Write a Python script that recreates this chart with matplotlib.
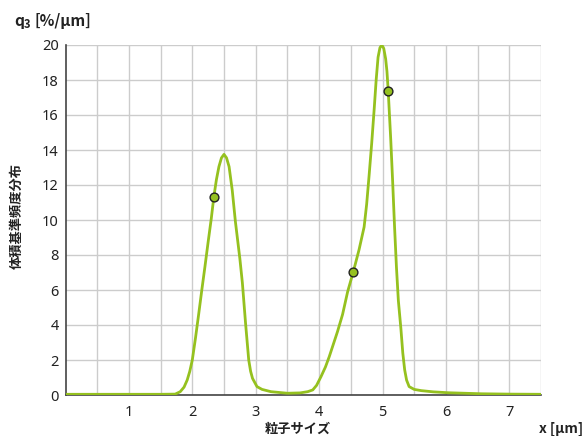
import matplotlib
matplotlib.use("Agg")
import matplotlib.pyplot as plt
import numpy as np

plt.rcParams['font.family'] = ['Noto Sans CJK JP', 'DejaVu Sans']

# Particle size (µm) and q3 (%/µm)
size_um = [0.0, 0.5, 1.0, 1.5, 1.73, 1.81, 1.87, 1.92, 1.96, 2.00, 2.05, 2.10, 2.15,
           2.20, 2.25, 2.30, 2.34, 2.38, 2.42, 2.46, 2.50, 2.54, 2.58, 2.63, 2.68,
           2.72, 2.75, 2.79, 2.84, 2.89, 2.92, 2.95, 3.02, 3.10, 3.24, 3.50, 3.70,
           3.82, 3.90, 3.96, 4.03, 4.10, 4.16, 4.22, 4.29, 4.37, 4.45, 4.54, 4.63,
           4.71, 4.75, 4.79, 4.83, 4.87, 4.90, 4.93, 4.96, 4.99, 5.02, 5.05, 5.07,
           5.09, 5.13, 5.16, 5.19, 5.22, 5.25, 5.29, 5.32, 5.35, 5.38, 5.42, 5.50,
           5.61, 5.80, 6.03, 6.56, 7.00, 7.50]
q3 = [0.04, 0.04, 0.04, 0.04, 0.05, 0.19, 0.45, 0.86, 1.35, 2.0, 3.25, 4.6, 6.0,
      7.35, 8.75, 10.1, 11.33, 12.3, 13.05, 13.55, 13.75, 13.55, 13.05, 11.7, 9.9,
      8.7, 7.8, 6.4, 4.1, 2.0, 1.35, 0.95, 0.48, 0.32, 0.19, 0.10, 0.12,
      0.19, 0.29, 0.55, 1.05, 1.6, 2.19, 2.85, 3.62, 4.6, 5.9, 7.05, 8.3,
      9.6, 10.9, 12.6, 14.4, 16.4, 18.0, 19.3, 19.85, 20.0, 19.8, 19.2, 18.5,
      17.39, 14.6, 12.2, 9.62, 7.3, 5.4, 3.8, 2.4, 1.43, 0.85, 0.48, 0.32,
      0.25, 0.18, 0.13, 0.07, 0.05, 0.04]

marker_x = [2.34, 4.54, 5.09]
marker_y = [11.33, 7.05, 17.39]

x_ticks = [1, 2, 3, 4, 5, 6, 7]
y_ticks = [0, 2, 4, 6, 8, 10, 12, 14, 16, 18, 20]

line_color = '#95c11f'

fig = plt.figure(figsize=(5.85, 4.36), dpi=100)
ax = fig.add_axes([65.5/585, 41/436, (541-65.5)/585, 350/436])

ax.plot(size_um, q3, color=line_color, lw=2.0, solid_joinstyle='round', zorder=3)
ax.scatter(marker_x, marker_y, s=40, facecolor=line_color, edgecolor='#222222',
           linewidth=1.0, zorder=4)

ax.set_xlim(0, 7.5)
ax.set_ylim(0, 20)
ax.set_xticks(x_ticks)
ax.set_xticks(np.arange(0.5, 7.51, 0.5), minor=True)
ax.set_yticks(y_ticks)

ax.grid(True, which='both', axis='x', color='#cccccc', lw=1.0)
ax.grid(True, which='major', axis='y', color='#cccccc', lw=1.0)
ax.set_axisbelow(True)

for s in ['top', 'right']:
    ax.spines[s].set_visible(False)
ax.spines['left'].set_color('#444444')
ax.spines['bottom'].set_color('#444444')
ax.spines['left'].set_linewidth(1.2)
ax.spines['bottom'].set_linewidth(1.2)

ax.tick_params(which='both', length=0)
ax.tick_params(axis='both', labelsize=10.5, labelcolor='#222222')
ax.tick_params(axis='x', pad=7)
ax.tick_params(axis='y', pad=5)
for lbl in ax.get_xticklabels() + ax.get_yticklabels():
    lbl.set_family(['Noto Sans', 'DejaVu Sans'])

# y-axis unit label: q with subscript 3
fig.text(14/585, 1 - 21/436, 'q', fontsize=11, fontweight='bold',
         ha='left', va='center', color='#222222')
fig.text(24/585, 1 - 25/436, '3', fontsize=8, fontweight='bold',
         ha='left', va='center', color='#222222')
fig.text(34/585, 1 - 21/436, '[%/µm]', fontsize=11, fontweight='bold',
         ha='left', va='center', color='#222222')
fig.text(17/585, 1 - 216/436, '体積基準頻度分布', rotation=90, fontsize=9.5,
         fontweight='bold', ha='center', va='center', color='#222222')
fig.text(298/585, 1 - 429/436, '粒子サイズ', fontsize=9.5,
         fontweight='bold', ha='center', va='center', color='#222222')
fig.text(583/585, 1 - 429/436, 'x [µm]', fontsize=10,
         fontweight='bold', ha='right', va='center', color='#222222')

fig.savefig('out.png', dpi=100)
